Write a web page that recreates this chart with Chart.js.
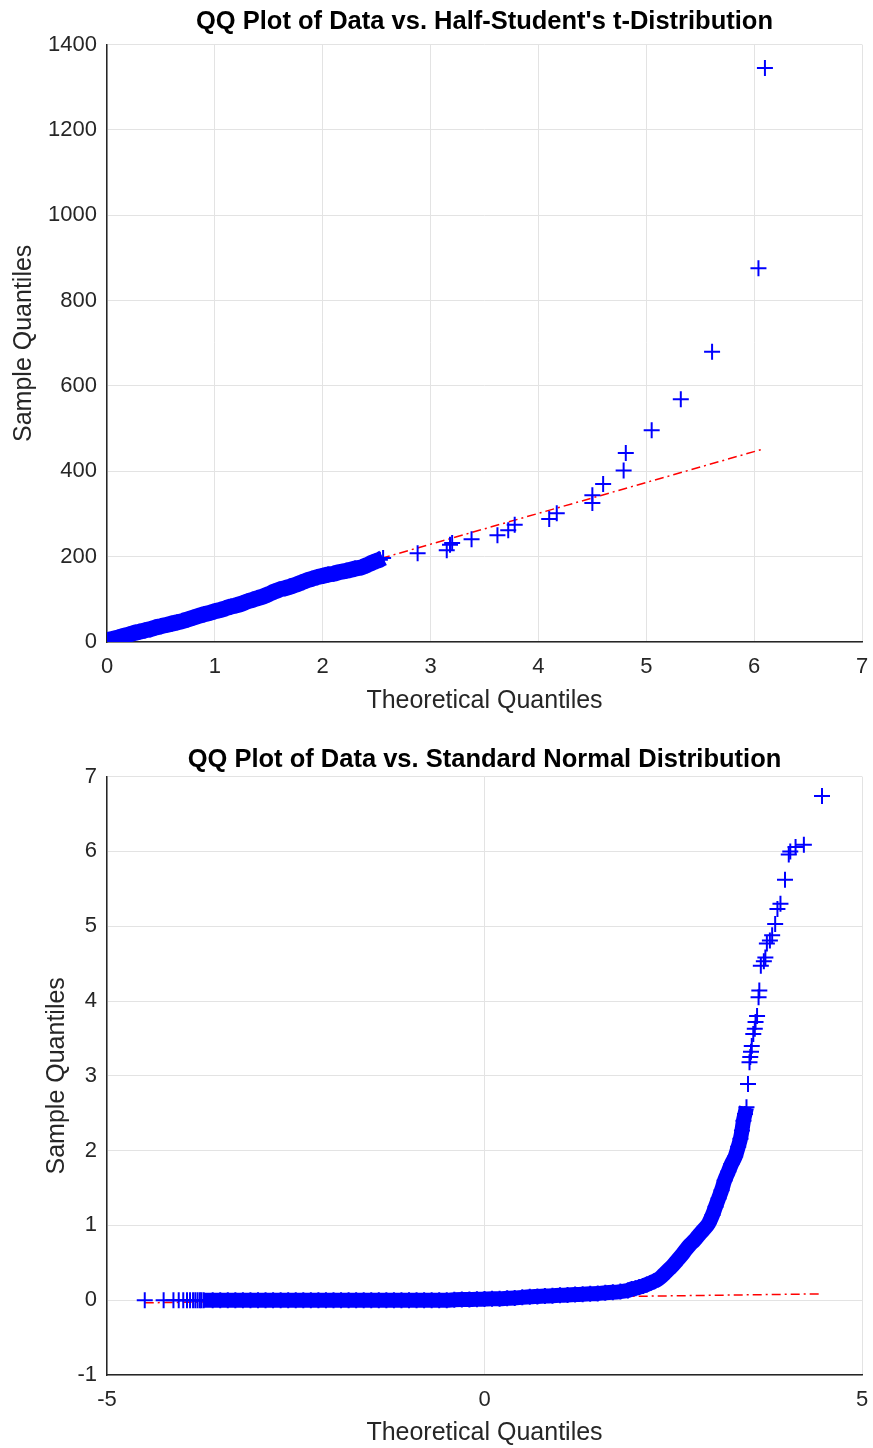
<!DOCTYPE html>
<html>
<head>
<meta charset="utf-8">
<script src="https://cdn.jsdelivr.net/npm/chart.js@4"></script>
<style>
html, body { margin: 0; padding: 0; background: #fff; }
canvas { display: block; }
</style>
</head>
<body>
<canvas id="halfT" width="873" height="720"></canvas>
<canvas id="normal" width="873" height="728"></canvas>
<script>
// --- QQ vs half-Student's t ---
const tXTicks = [0, 1, 2, 3, 4, 5, 6, 7];
const tYTicks = [0, 200, 400, 600, 800, 1000, 1200, 1400];

// dense run of quantiles near the origin
const tBandX = [0, 0.05, 0.10, 0.15, 0.20, 0.25, 0.30, 0.35, 0.40, 0.45,
    0.50, 0.55, 0.60, 0.65, 0.70, 0.75, 0.80, 0.85, 0.90, 0.95,
    1.00, 1.05, 1.10, 1.15, 1.20, 1.25, 1.30, 1.35, 1.40, 1.45,
    1.50, 1.55, 1.60, 1.65, 1.70, 1.75, 1.80, 1.85, 1.90, 1.95,
    2.00, 2.05, 2.10,
    2.16, 2.22, 2.30, 2.36, 2.41, 2.46, 2.50, 2.53, 2.56];
const tBandY = [4, 7, 10, 14, 17, 21, 24, 27, 30, 34,
    37, 40, 43, 46, 49, 53, 57, 61, 65, 68,
    72, 75, 79, 83, 86, 90, 95, 99, 103, 107,
    112, 118, 123, 126, 130, 134, 139, 144, 148, 152,
    155, 158, 160,
    164, 167, 172, 175, 180, 186, 190, 193, 197];

// upper tail, one point each
const tTailX = [2.88, 3.15, 3.18, 3.20, 3.38, 3.62, 3.72, 3.78, 4.10, 4.17,
    4.50, 4.50, 4.60, 4.79, 4.81, 5.05, 5.32, 5.61, 6.04, 6.10];
const tTailY = [208, 215, 228, 232, 241, 250, 262, 275, 288, 302,
    326, 344, 370, 402, 443, 496, 569, 680, 876, 1345];

const tRefX = [0, 6.08];
const tRefY = [12, 452];

// --- QQ vs standard normal ---
const nXTicks = [-5, 0, 5];
const nYTicks = [-1, 0, 1, 2, 3, 4, 5, 6, 7];

// isolated points in the lower tail
const nLeftX = [-4.50, -4.25, -4.12, -4.05, -3.99, -3.94, -3.90, -3.86, -3.83, -3.80, -3.77, -3.75];
const nLeftY = [0, 0, 0, 0, 0, 0, 0, 0, 0, 0, 0, 0];

const nBandX = [-3.72, -3.6, -3.5, -3.4, -3.3, -3.2, -3.1, -3.0, -2.9, -2.8,
    -2.7, -2.6, -2.5, -2.4, -2.3, -2.2, -2.1, -2.0, -1.9, -1.8,
    -1.7, -1.6, -1.5, -1.4, -1.3, -1.2, -1.1, -1.0, -0.9, -0.8,
    -0.7, -0.6, -0.5,
    -0.4, -0.3, -0.2, -0.1, 0, 0.1, 0.2, 0.3, 0.4, 0.5,
    0.6, 0.7, 0.8, 0.9, 1.0, 1.1, 1.2, 1.3, 1.4, 1.5,
    1.6, 1.7, 1.8, 1.9, 1.95, 2.0, 2.05, 2.1, 2.15, 2.2,
    2.25, 2.3, 2.35, 2.39, 2.45, 2.5, 2.55, 2.61, 2.67, 2.72,
    2.78, 2.83, 2.9, 2.97, 3.02, 3.06, 3.10, 3.14, 3.18, 3.23,
    3.27, 3.32, 3.36, 3.39, 3.41, 3.43, 3.45, 3.47];
const nBandY = [0, 0, 0, 0, 0, 0, 0, 0, 0, 0,
    0, 0, 0, 0, 0, 0, 0, 0, 0, 0,
    0, 0, 0, 0, 0, 0, 0, 0, 0, 0,
    0, 0, 0,
    0.005, 0.008, 0.010, 0.012, 0.015, 0.018, 0.020, 0.025, 0.030, 0.038,
    0.045, 0.050, 0.055, 0.060, 0.065, 0.070, 0.075, 0.080, 0.085, 0.090,
    0.100, 0.105, 0.115, 0.130, 0.150, 0.160, 0.175, 0.190, 0.210, 0.230,
    0.255, 0.280, 0.320, 0.360, 0.420, 0.470, 0.530, 0.600, 0.680, 0.740,
    0.800, 0.860, 0.940, 1.030, 1.140, 1.250, 1.360, 1.470, 1.600, 1.720,
    1.820, 1.920, 2.050, 2.160, 2.270, 2.400, 2.490, 2.580];

const nTailX = [3.49, 3.51, 3.52, 3.53, 3.54, 3.56, 3.58, 3.59, 3.61, 3.63,
    3.64, 3.66, 3.70, 3.72, 3.74, 3.78, 3.81, 3.85, 3.88, 3.92,
    3.98, 4.03, 4.05, 4.12, 4.23, 4.47];
const nTailY = [2.89, 3.18, 3.25, 3.32, 3.40, 3.56, 3.63, 3.72, 3.80, 4.05,
    4.14, 4.47, 4.53, 4.58, 4.77, 4.81, 4.88, 5.03, 5.23, 5.30,
    5.62, 5.96, 6.00, 6.06, 6.09, 6.74];

const nRefX = [-4.50, 4.47];
const nRefY = [-0.035, 0.085];

const FONT = "'Liberation Sans', Arial, Helvetica, sans-serif";
const INK = '#262626';
const GRID = '#e3e3e3';
const BLUE = '#0000ff';

const pts = (xs, ys) => xs.map((x, i) => ({ x, y: ys[i] }));

function qqChart(id, cfg) {
    const canvas = document.getElementById(id);
    const ctx = canvas.getContext('2d');
    const markerPts = cfg.markers.reduce((acc, [xs, ys]) => acc.concat(pts(xs, ys)), []);

    return new Chart(ctx, {
        type: 'scatter',
        data: {
            datasets: [
                {
                    // plus markers on top
                    data: markerPts,
                    pointStyle: 'cross',
                    pointRadius: 8,
                    pointBorderWidth: 2,
                    borderColor: BLUE,
                    backgroundColor: BLUE,
                    showLine: false,
                },
                {
                    // overlapping markers in the dense run merge into a solid band
                    data: pts(cfg.band[0], cfg.band[1]),
                    showLine: true,
                    borderColor: BLUE,
                    borderWidth: cfg.bandWidth,
                    borderJoinStyle: 'round',
                    borderCapStyle: 'butt',
                    cubicInterpolationMode: 'monotone',
                    pointRadius: 0,
                },
                {
                    // reference line through the quartiles
                    data: pts(cfg.ref[0], cfg.ref[1]),
                    showLine: true,
                    borderColor: '#ff0000',
                    borderWidth: 1.5,
                    borderDash: [9, 4, 2, 4],
                    pointRadius: 0,
                },
            ],
        },
        options: {
            responsive: false,
            animation: false,
            events: [],
            layout: { padding: { left: 0, right: 11, top: 0, bottom: 0 } },
            plugins: {
                legend: { display: false },
                tooltip: { enabled: false },
                title: {
                    display: true,
                    fullSize: false,
                    text: cfg.title,
                    color: '#000',
                    font: { family: FONT, size: 25.5, weight: 'bold', lineHeight: 1.2 },
                    padding: cfg.titlePad,
                },
            },
            scales: {
                x: {
                    type: 'linear',
                    min: cfg.xTicks[0],
                    max: cfg.xTicks[cfg.xTicks.length - 1],
                    afterBuildTicks: (axis) => { axis.ticks = cfg.xTicks.map((v) => ({ value: v })); },
                    afterFit: (axis) => {
                        axis.height = cfg.xAxisHeight;
                        // end labels may hang over the edges, keep the plot box fixed
                        axis.paddingLeft = 0;
                        axis.paddingRight = 0;
                    },
                    grid: { color: GRID, lineWidth: 1, drawTicks: false },
                    border: { display: true, color: INK, width: 1.5 },
                    ticks: {
                        color: INK,
                        padding: 12,
                        maxRotation: 0,
                        font: { family: FONT, size: 22 },
                        callback: (v) => String(v),
                    },
                    title: {
                        display: true,
                        text: 'Theoretical Quantiles',
                        color: INK,
                        font: { family: FONT, size: 25, lineHeight: 1.2 },
                        padding: { top: 0, bottom: cfg.xTitleBottom },
                    },
                },
                y: {
                    type: 'linear',
                    min: cfg.yTicks[0],
                    max: cfg.yTicks[cfg.yTicks.length - 1],
                    afterBuildTicks: (axis) => { axis.ticks = cfg.yTicks.map((v) => ({ value: v })); },
                    afterFit: (axis) => { axis.width = 107; },
                    grid: { color: GRID, lineWidth: 1, drawTicks: false },
                    border: { display: true, color: INK, width: 1.5 },
                    ticks: {
                        color: INK,
                        padding: 10,
                        font: { family: FONT, size: 22 },
                        callback: (v) => String(v),
                    },
                    title: {
                        display: true,
                        text: 'Sample Quantiles',
                        color: INK,
                        font: { family: FONT, size: 25, lineHeight: 1.2 },
                        padding: { top: cfg.yTitleTop, bottom: 0 },
                    },
                },
            },
        },
    });
}

qqChart('halfT', {
    title: "QQ Plot of Data vs. Half-Student's t-Distribution",
    titlePad: { top: 7, bottom: 7 },
    xTicks: tXTicks,
    yTicks: tYTicks,
    band: [tBandX, tBandY],
    bandWidth: 16,
    markers: [[tBandX, tBandY], [tTailX, tTailY]],
    ref: [tRefX, tRefY],
    xAxisHeight: 78,
    xTitleBottom: 4,
    yTitleTop: 9,
});

qqChart('normal', {
    title: 'QQ Plot of Data vs. Standard Normal Distribution',
    titlePad: { top: 25, bottom: 1 },
    xTicks: nXTicks,
    yTicks: nYTicks,
    band: [nBandX, nBandY],
    bandWidth: 15,
    markers: [[nLeftX, nLeftY], [nBandX, nBandY], [nTailX, nTailY]],
    ref: [nRefX, nRefY],
    xAxisHeight: 73,
    xTitleBottom: 0,
    yTitleTop: 42,
});
</script>
</body>
</html>
